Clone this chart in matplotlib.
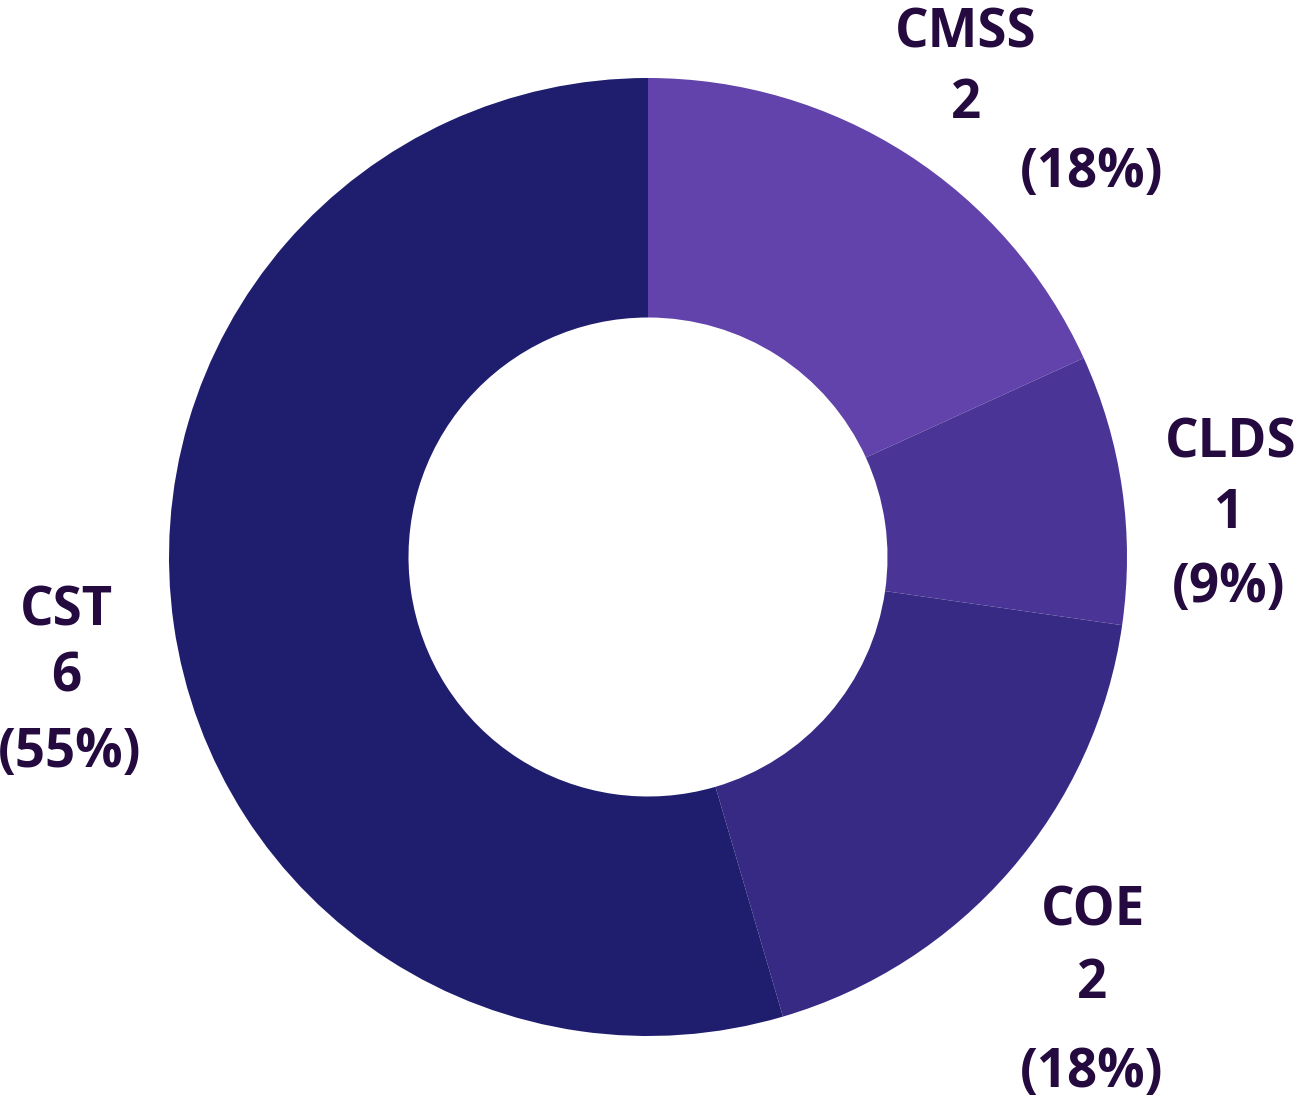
import matplotlib.pyplot as plt

# data
categories = ['CMSS', 'CLDS', 'COE', 'CST']
counts = [2, 1, 2, 6]
colors = ['#6242AB', '#4A3597', '#372A84', '#1F1D6E']

# label line positions in pixels (x center, baseline y from top) for each line
label_pos = {
    'CMSS': [(966, 47), (966, 118), (1092, 187)],
    'CLDS': [(1231, 457), (1229, 528), (1229, 602)],
    'COE': [(1093, 925), (1092, 998), (1092, 1087)],
    'CST': [(66, 625), (66, 692), (70, 767)],
}

W, H = 1296, 1103
fig = plt.figure(figsize=(W / 100, H / 100), dpi=100)
ax = fig.add_axes([0, 0, 1, 1])

ax.pie(counts, colors=colors, startangle=90, counterclock=False,
       radius=1.0, wedgeprops=dict(width=0.5, linewidth=0))

# center at (648, 557) px, radius 479 px
cx, cy, r = 648, 557, 479
ax.set_xlim(-cx / r, (W - cx) / r)
ax.set_ylim(-(H - cy) / r, cy / r)
ax.set_aspect('auto')
ax.axis('off')

total = sum(counts)
for cat, n in zip(categories, counts):
    pct = round(n / total * 100)
    lines = [cat, str(n), f'({pct}%)']
    for txt, (px, py) in zip(lines, label_pos[cat]):
        fig.text(px / W, 1 - py / H, txt, ha='center', va='baseline',
                 fontsize=38, fontweight='bold', color='#250A40',
                 family=['Open Sans', 'DejaVu Sans'])

fig.savefig('out.png', dpi=100)
